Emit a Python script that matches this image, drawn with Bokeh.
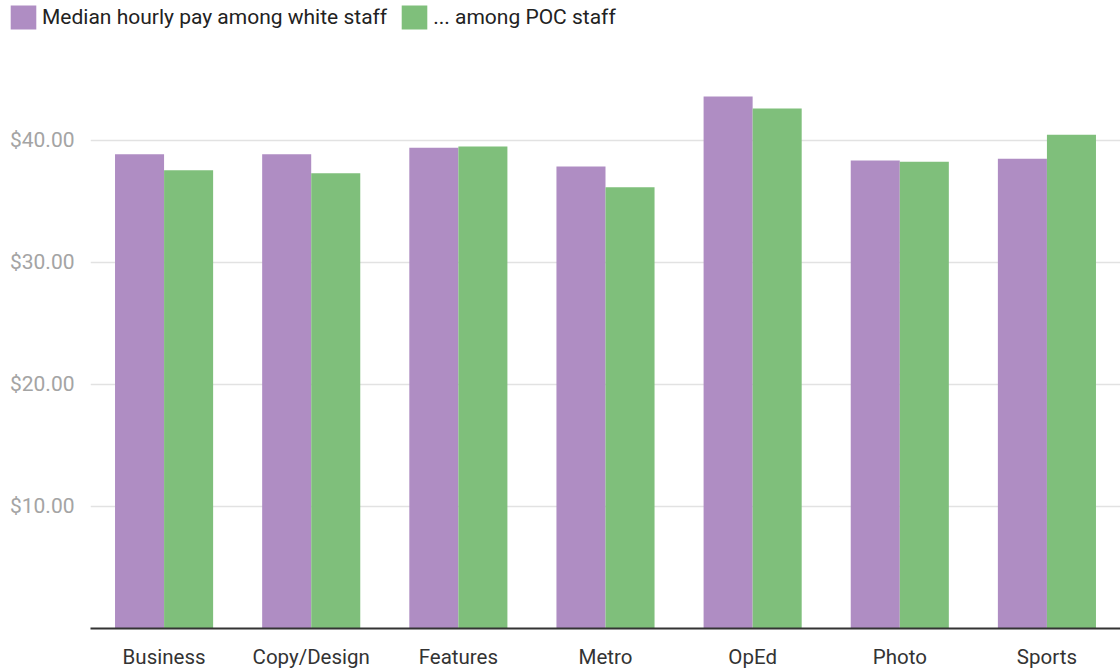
from bokeh.plotting import figure
from bokeh.layouts import column
from bokeh.models import Range1d, FactorRange, ColumnDataSource, NumeralTickFormatter, FixedTicker, Legend, LegendItem
from bokeh.transform import dodge
from bokeh.embed import file_html
from bokeh.resources import INLINE

departments = ["Business", "Copy/Design", "Features", "Metro", "OpEd", "Photo", "Sports"]
white_pay = [38.85, 38.85, 39.40, 37.85, 43.60, 38.35, 38.50]
poc_pay = [37.55, 37.30, 39.50, 36.15, 42.60, 38.25, 40.45]
y_ticks = [10, 20, 30, 40]
series_labels = ["Median hourly pay among white staff", "... among POC staff"]
colors = ["#af8dc3", "#7fbf7b"]

FONT = "Roboto"

# legend strip
lg = figure(width=1120, height=40, x_range=Range1d(0, 1), y_range=Range1d(0, 1),
            output_backend="svg", toolbar_location=None,
            min_border_left=0, min_border_right=0, min_border_top=0, min_border_bottom=0)
lg.frame_align = False
lg.axis.visible = False
lg.grid.visible = False
lg.outline_line_color = None
d1 = lg.vbar(x=[5], top=[5], bottom=[4], width=0.1, fill_color=colors[0], line_color=None)
d2 = lg.vbar(x=[5], top=[5], bottom=[4], width=0.1, fill_color=colors[1], line_color=None)
legend = Legend(items=[LegendItem(label=series_labels[0], renderers=[d1]),
                       LegendItem(label=series_labels[1], renderers=[d2])],
                orientation="horizontal", location=(7, 8))
legend.border_line_color = None
legend.background_fill_alpha = 0
legend.padding = 0
legend.margin = 0
legend.spacing = 11
legend.glyph_width = 32
legend.glyph_height = 30
legend.label_standoff = 3
legend.label_text_font = FONT
legend.label_text_font_size = "21px"
legend.label_text_color = "#222222"
legend.label_height = 30
lg.add_layout(legend, "center")

# main chart
src = ColumnDataSource(dict(dept=departments, white=white_pay, poc=poc_pay))
p = figure(width=1120, height=631, x_range=FactorRange(*departments, range_padding=0),
           y_range=Range1d(0, 48.18), output_backend="svg", toolbar_location=None,
           min_border_left=90, min_border_right=0, min_border_top=0, min_border_bottom=42)
p.outline_line_color = None

p.vbar(x=dodge("dept", -0.1667, range=p.x_range), top="white", width=0.3333, source=src,
       fill_color=colors[0], line_color=None)
p.vbar(x=dodge("dept", 0.1667, range=p.x_range), top="poc", width=0.3333, source=src,
       fill_color=colors[1], line_color=None)

p.xgrid.grid_line_color = None
p.ygrid.grid_line_color = "#e2e2e2"
p.ygrid.grid_line_width = 1.5

p.yaxis.ticker = FixedTicker(ticks=y_ticks)
p.yaxis.formatter = NumeralTickFormatter(format="$0.00")
p.yaxis.axis_line_color = None
p.yaxis.major_tick_line_color = None
p.yaxis.minor_tick_line_color = None
p.yaxis.major_label_text_font = FONT
p.yaxis.major_label_text_font_size = "21px"
p.yaxis.major_label_text_color = "#a4a4a4"
p.yaxis.major_label_standoff = 10

p.xaxis.axis_line_color = "#333333"
p.xaxis.axis_line_width = 2
p.xaxis.major_tick_line_color = None
p.xaxis.minor_tick_line_color = None
p.xaxis.major_label_text_font = FONT
p.xaxis.major_label_text_font_size = "20.5px"
p.xaxis.major_label_text_color = "#333333"
p.xaxis.major_label_standoff = 10

open("out.html", "w").write(file_html(column(lg, p, spacing=0), INLINE))
